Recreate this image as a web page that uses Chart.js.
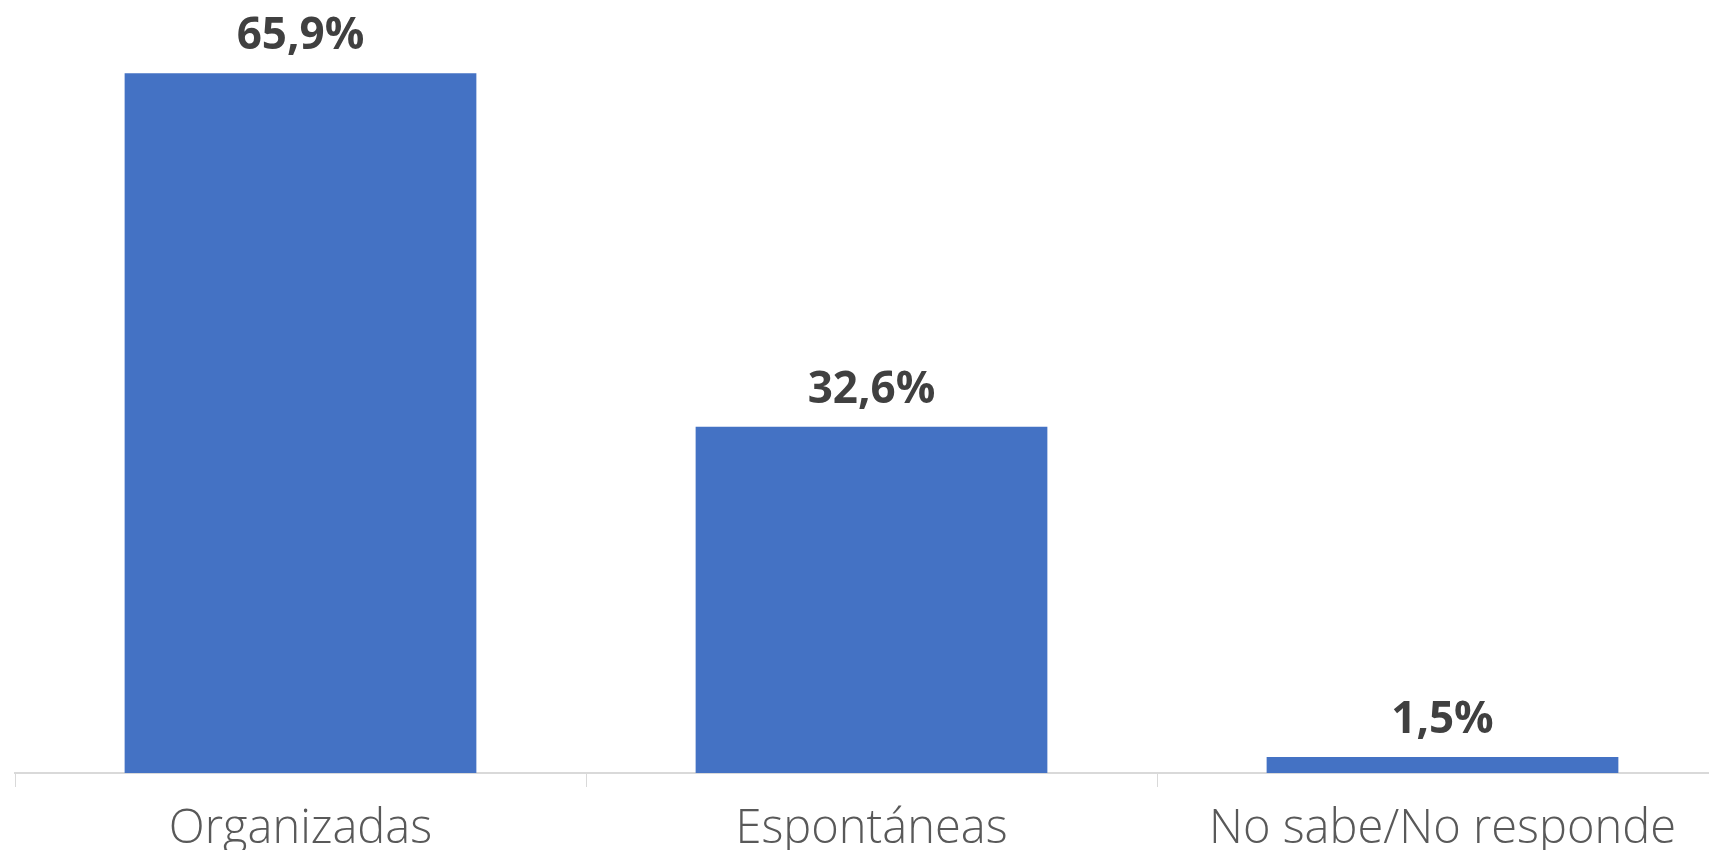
<!DOCTYPE html>
<html><head><meta charset="utf-8">
<script src="https://cdn.jsdelivr.net/npm/chart.js@4"></script>
<style>html,body{margin:0;padding:0;background:#fff;overflow:hidden;}#wrap{width:1728px;height:850px;}</style>
</head><body><div id="wrap"><canvas id="c"></canvas></div>
<script>
const categories = ["Organizadas", "Espontáneas", "No sabe/No responde"];
const values = [65.9, 32.6, 1.5];
const valueLabels = ["65,9%", "32,6%", "1,5%"];

const labelPlugin = {
  id: 'valueLabels',
  afterDatasetsDraw(chart) {
    const ctx = chart.ctx;
    const meta = chart.getDatasetMeta(0);
    ctx.save();
    ctx.font = 'bold 44px "Open Sans"';
    ctx.fillStyle = '#404040';
    ctx.textAlign = 'center';
    ctx.textBaseline = 'alphabetic';
    meta.data.forEach((bar, i) => {
      ctx.fillText(valueLabels[i], bar.x, bar.y - 24);
    });
    ctx.restore();
  }
};

new Chart(document.getElementById('c'), {
  type: 'bar',
  data: {
    labels: categories,
    datasets: [{
      data: values,
      backgroundColor: '#4472C4',
      borderWidth: 0,
      categoryPercentage: 0.616,
      barPercentage: 1.0
    }]
  },
  options: {
    responsive: true,
    maintainAspectRatio: false,
    animation: false,
    layout: { padding: { left: 15, right: 0, top: 0, bottom: 0 } },
    plugins: { legend: { display: false }, tooltip: { enabled: false } },
    scales: {
      x: {
        afterFit: (scale) => { scale.height = 77; },
        grid: { display: true, drawOnChartArea: false, drawTicks: true, tickLength: 14, color: '#d9d9d9', offset: true },
        border: { display: true, color: '#d9d9d9', width: 2 },
        ticks: { color: '#595959', font: { family: '"Open Sans"', size: 47, weight: '300' }, padding: 14, maxRotation: 0 }
      },
      y: {
        display: false,
        min: 0,
        max: 72.8
      }
    }
  },
  plugins: [labelPlugin]
});
</script>
</body></html>
